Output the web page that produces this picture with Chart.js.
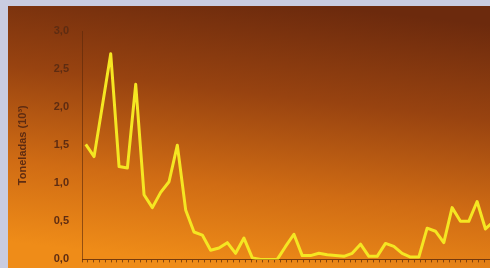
<!DOCTYPE html>
<html>
<head>
<meta charset="utf-8">
<script src="https://cdn.jsdelivr.net/npm/chart.js@4"></script>
<style>
  html, body { margin: 0; padding: 0; background: #c9cce0; overflow: hidden; }
  #wrap { width: 490px; height: 268px; overflow: hidden; }
</style>
</head>
<body>
<div id="wrap"><canvas id="chart" width="490" height="279"></canvas></div>
<script>
// Toneladas (10^3), one value per period
const toneladas = [
  1.51, 1.35, 2.02, 2.70, 1.22, 1.20, 2.30, 0.85, 0.68, 0.88,
  1.02, 1.50, 0.65, 0.36, 0.32, 0.12, 0.15, 0.22, 0.08, 0.28,
  0.02, 0.00, 0.00, 0.00, 0.17, 0.33, 0.05, 0.05, 0.08, 0.06,
  0.05, 0.04, 0.08, 0.20, 0.04, 0.04, 0.21, 0.17, 0.08, 0.03,
  0.03, 0.41, 0.37, 0.22, 0.68, 0.50, 0.50, 0.76, 0.40, 0.50
];
const periods = toneladas.map((_, i) => i);
const yTicks = [0, 0.5, 1, 1.5, 2, 2.5, 3];

// panel behind the plot: lavender paper + orange gradient board
const backdrop = {
  id: 'backdrop',
  beforeDraw(chart) {
    const ctx = chart.ctx;
    const w = chart.width, h = 268;
    ctx.save();
    ctx.fillStyle = '#c9cce0';
    ctx.fillRect(0, 0, w, chart.height);
    const g = ctx.createLinearGradient(270, 0, 240, h);
    g.addColorStop(0, '#6c2a0d');
    g.addColorStop(0.35, '#984310');
    g.addColorStop(0.7, '#d06c14');
    g.addColorStop(1, '#ef8c18');
    ctx.fillStyle = g;
    ctx.fillRect(8, 6, w - 8, chart.height - 6);
    ctx.restore();
  }
};

new Chart(document.getElementById('chart'), {
  type: 'line',
  data: {
    datasets: [{
      data: periods.map((p, i) => ({ x: p, y: toneladas[i] })),
      borderColor: '#f5e622',
      borderWidth: 3,
      borderJoinStyle: 'round',
      pointRadius: 0,
      tension: 0,
      clip: 0
    }]
  },
  options: {
    responsive: false,
    animation: false,
    layout: { padding: { top: 31, left: 0, right: 0, bottom: 0 } },
    plugins: { legend: { display: false }, tooltip: { enabled: false } },
    scales: {
      x: {
        type: 'linear',
        min: -0.45,
        max: 48.55,
        afterFit(scale) { scale.height = 0; },
        ticks: { display: false, stepSize: 0.7 },
        grid: { drawOnChartArea: false, tickLength: 3, color: 'rgba(90,40,10,0.7)' },
        border: { color: 'rgba(90,40,10,0.8)', width: 1 }
      },
      y: {
        min: 0,
        max: 3,
        afterBuildTicks(scale) { scale.ticks = yTicks.map(v => ({ value: v })); },
        afterFit(scale) { scale.width = 82; },
        ticks: {
          color: '#5e2c12',
          padding: 13,
          font: { family: 'Liberation Sans', size: 11, weight: 'bold' },
          callback: v => v.toFixed(1).replace('.', ',')
        },
        title: {
          display: true,
          text: 'Toneladas (10³)',
          color: '#5e2c12',
          padding: { top: 16, bottom: 0 },
          font: { family: 'Liberation Sans', size: 11, weight: 'bold' }
        },
        grid: { drawOnChartArea: false, tickLength: 0 },
        border: { color: 'rgba(90,40,10,0.6)', width: 1 }
      }
    }
  },
  plugins: [backdrop]
});
</script>
</body>
</html>
